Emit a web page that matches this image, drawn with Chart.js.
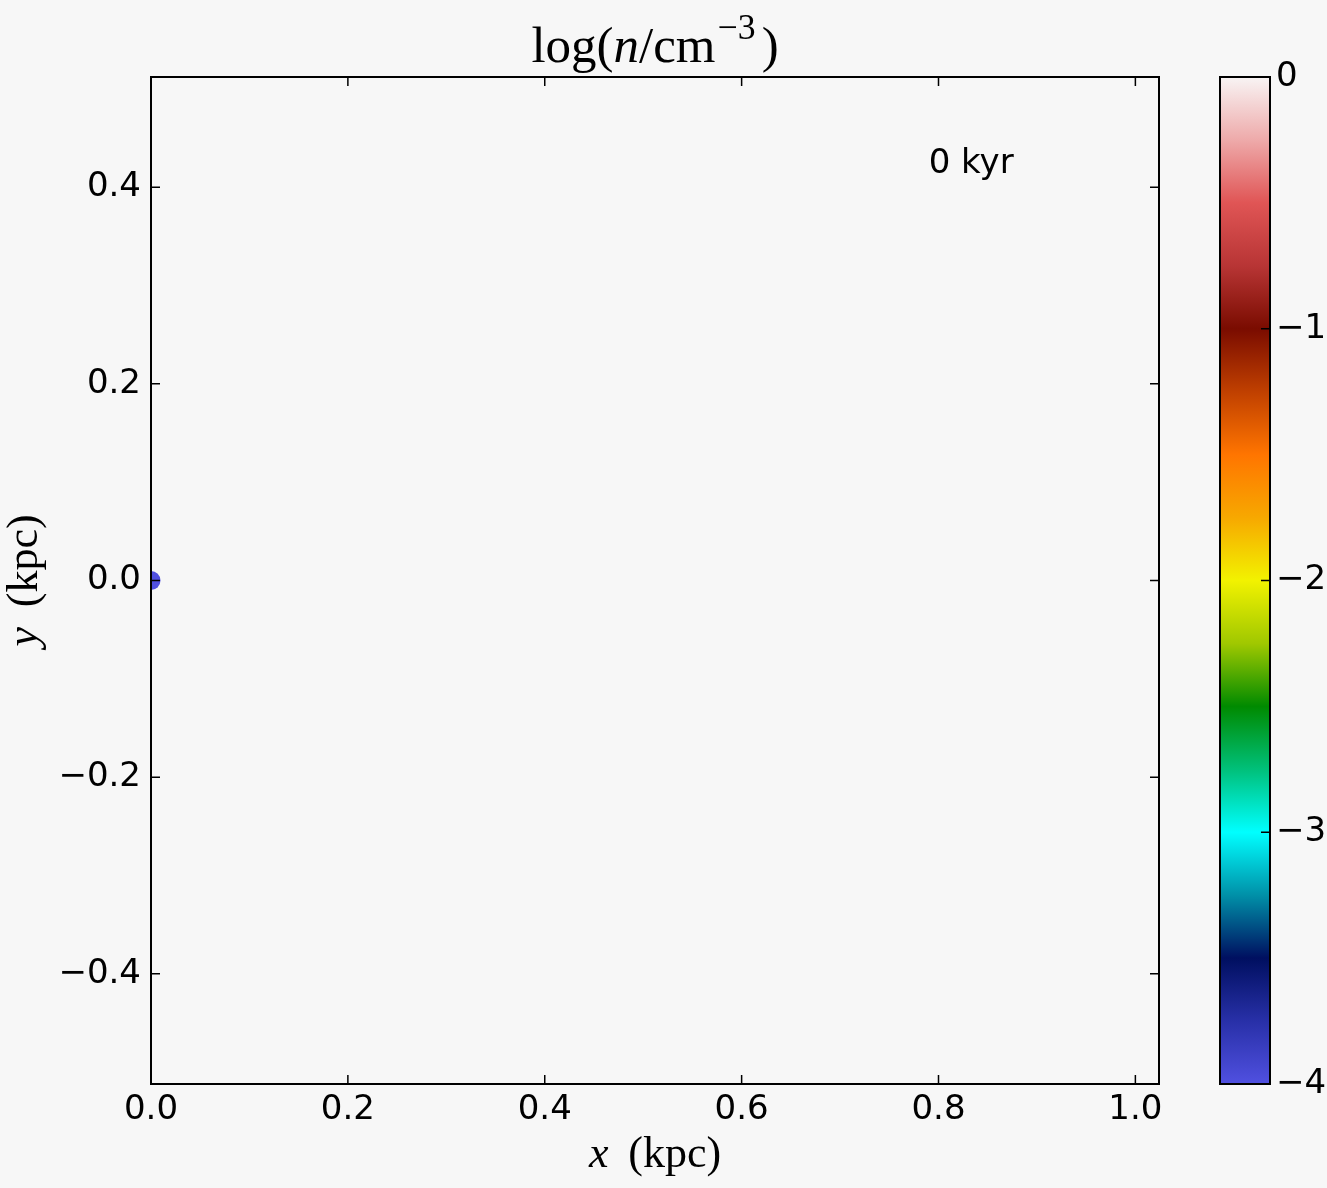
<!DOCTYPE html>
<html>
<head>
<meta charset="utf-8">
<script src="https://cdn.jsdelivr.net/npm/chart.js@4.4.1/dist/chart.umd.min.js"></script>
<style>
  html, body { margin: 0; padding: 0; background: #f7f7f7; }
  #wrap { position: relative; width: 1327px; height: 1188px; }
  #densityChart { position: absolute; left: 0; top: 0; }
  #colorbar { position: absolute; left: 1190px; top: 0; }
</style>
</head>
<body>
<div id="wrap">
  <canvas id="densityChart" width="1327" height="1188"></canvas>
  <canvas id="colorbar" width="137" height="1188"></canvas>
</div>
<script>
// --- data ---
const xRange = [0, 1.024];
const yRange = [-0.512, 0.512];
const xTicks = [0.0, 0.2, 0.4, 0.6, 0.8, 1.0];
const yTicks = [-0.4, -0.2, 0.0, 0.2, 0.4];

// dense cells (kpc) and their log density
const cellX    = [0.0];
const cellY    = [0.0];
const cellLogN = [-4];

const timeLabel    = '0 kyr';
const timeLabelPos = [0.79, 0.423];

// colour scale
const cbRange = [-4, 0];
const cbTicks = [-4, -3, -2, -1, 0];
const cmapValues = [-4, -3.75, -3.5, -3.25, -3, -2.75, -2.5, -2.25, -2, -1.75, -1.5, -1.25, -1, -0.75, -0.5, -0.25, 0];
const cmapColors = ['#5050e0', '#2830a8', '#000f60', '#0090a8', '#00ffff', '#00c07a', '#008a00', '#a0c800',
                    '#f2f200', '#f7a800', '#ff7500', '#c04000', '#7a0c00', '#b83535', '#e05555', '#eeaaaa', '#f8f4f4'];

const TICK_FONT = { family: 'DejaVu Sans', size: 34 };
const SERIF = '"Liberation Serif", serif';

const fmt1 = v => (v < -1e-9 ? '\u2212' : '') + Math.abs(v).toFixed(1);
const fmt0 = v => (v < 0 ? '\u2212' : '') + Math.abs(v).toFixed(0);

function hexRgb(h) {
  const n = parseInt(h.slice(1), 16);
  return [(n >> 16) & 255, (n >> 8) & 255, n & 255];
}
function colorFor(v) {
  if (v <= cmapValues[0]) return cmapColors[0];
  for (let i = 1; i < cmapValues.length; i++) {
    if (v <= cmapValues[i]) {
      const t = (v - cmapValues[i - 1]) / (cmapValues[i] - cmapValues[i - 1]);
      const a = hexRgb(cmapColors[i - 1]), b = hexRgb(cmapColors[i]);
      const c = a.map((x, k) => Math.round(x + (b[k] - x) * t));
      return `rgb(${c[0]},${c[1]},${c[2]})`;
    }
  }
  return cmapColors[cmapColors.length - 1];
}

// mathtext-ish label: parts of {t, it, sup, gap}
function drawMath(ctx, parts, x, y, size) {
  const items = parts.map(p => {
    const s = p.sup ? size * 0.7 : size;
    ctx.font = `${p.it ? 'italic ' : ''}${s}px ${SERIF}`;
    return { ...p, s, w: ctx.measureText(p.t).width };
  });
  const total = items.reduce((a, p) => a + p.w + (p.gap || 0) * size, 0);
  let cx = x - total / 2;
  ctx.fillStyle = '#000';
  ctx.textAlign = 'left';
  ctx.textBaseline = 'alphabetic';
  items.forEach(p => {
    cx += (p.gap || 0) * size;
    ctx.font = `${p.it ? 'italic ' : ''}${p.s}px ${SERIF}`;
    ctx.fillText(p.t, cx, p.sup ? y - size * 0.45 : y);
    cx += p.w;
  });
}

// frame, inward ticks and labels
const framePlugin = {
  id: 'frame',
  afterDraw(chart) {
    const { ctx, chartArea: a, scales: { x, y } } = chart;
    ctx.save();
    ctx.strokeStyle = '#000';
    ctx.lineWidth = 1.5;
    ctx.beginPath();
    xTicks.forEach(v => {
      const px = x.getPixelForValue(v);
      ctx.moveTo(px, a.bottom); ctx.lineTo(px, a.bottom - 9);
      ctx.moveTo(px, a.top);    ctx.lineTo(px, a.top + 9);
    });
    yTicks.forEach(v => {
      const py = y.getPixelForValue(v);
      ctx.moveTo(a.left, py);  ctx.lineTo(a.left + 9, py);
      ctx.moveTo(a.right, py); ctx.lineTo(a.right - 9, py);
    });
    ctx.stroke();
    ctx.lineWidth = 2;
    ctx.strokeRect(a.left, a.top, a.right - a.left, a.bottom - a.top);

    // time stamp
    ctx.fillStyle = '#000';
    ctx.font = `${TICK_FONT.size}px "${TICK_FONT.family}"`;
    ctx.textAlign = 'left';
    ctx.textBaseline = 'middle';
    ctx.fillText(timeLabel, x.getPixelForValue(timeLabelPos[0]), y.getPixelForValue(timeLabelPos[1]));

    const cxMid = (a.left + a.right) / 2;
    drawMath(ctx, [{ t: 'log(' }, { t: 'n', it: true }, { t: '/cm' }, { t: '\u22123', sup: true, gap: 0.04 }, { t: ')', gap: 0.12 }], cxMid, 62, 51);
    drawMath(ctx, [{ t: 'x', it: true }, { t: '(kpc)', gap: 0.45 }], cxMid, 1167, 44);

    ctx.translate(37, (a.top + a.bottom) / 2);
    ctx.rotate(-Math.PI / 2);
    drawMath(ctx, [{ t: 'y', it: true }, { t: '(kpc)', gap: 0.45 }], 0, 0, 44);
    ctx.restore();
  }
};

new Chart(document.getElementById('densityChart'), {
  type: 'scatter',
  data: {
    datasets: [{
      data: cellX.map((x, i) => ({ x, y: cellY[i], v: cellLogN[i] })),
      backgroundColor: c => colorFor(c.raw ? c.raw.v : cbRange[0]),
      borderWidth: 0,
      pointRadius: 9.5,
      pointHoverRadius: 9.5,
      clip: 0
    }]
  },
  options: {
    responsive: false,
    animation: false,
    events: [],
    layout: { padding: { top: 77, right: 168, left: 0, bottom: 0 } },
    plugins: { legend: { display: false }, tooltip: { enabled: false } },
    scales: {
      x: {
        type: 'linear', position: 'bottom', min: xRange[0], max: xRange[1],
        afterBuildTicks: s => { s.ticks = xTicks.map(v => ({ value: v })); },
        afterFit: s => { s.height = 104; },
        grid: { display: false, drawTicks: false }, border: { display: false },
        ticks: { font: TICK_FONT, color: '#000', padding: 6, maxRotation: 0, autoSkip: false, callback: fmt1 }
      },
      y: {
        type: 'linear', position: 'left', min: yRange[0], max: yRange[1],
        afterBuildTicks: s => { s.ticks = yTicks.map(v => ({ value: v })); },
        afterFit: s => { s.width = 151; },
        grid: { display: false, drawTicks: false }, border: { display: false },
        ticks: { font: TICK_FONT, color: '#000', padding: 10, autoSkip: false, callback: fmt1 }
      }
    }
  },
  plugins: [framePlugin]
});

// colour bar
const cbFrame = {
  id: 'cbFrame',
  afterDraw(chart) {
    const { ctx, chartArea: a, scales: { y } } = chart;
    ctx.save();
    ctx.strokeStyle = '#000';
    ctx.lineWidth = 1.5;
    ctx.beginPath();
    cbTicks.forEach(v => {
      const py = y.getPixelForValue(v);
      ctx.moveTo(a.right, py); ctx.lineTo(a.right - 9, py);
    });
    ctx.stroke();
    ctx.lineWidth = 2;
    ctx.strokeRect(a.left, a.top, a.right - a.left, a.bottom - a.top);
    ctx.restore();
  }
};

new Chart(document.getElementById('colorbar'), {
  type: 'bar',
  data: {
    labels: ['logn'],
    datasets: [{
      data: [cbRange],
      barPercentage: 1,
      categoryPercentage: 1,
      borderWidth: 0,
      backgroundColor: c => {
        const { chart } = c;
        if (!chart.chartArea) return cmapColors[0];
        const y = chart.scales.y;
        const y0 = y.getPixelForValue(cbRange[0]), y1 = y.getPixelForValue(cbRange[1]);
        const g = chart.ctx.createLinearGradient(0, y0, 0, y1);
        cmapValues.forEach((v, i) => g.addColorStop((v - cbRange[0]) / (cbRange[1] - cbRange[0]), cmapColors[i]));
        return g;
      }
    }]
  },
  options: {
    responsive: false,
    animation: false,
    events: [],
    layout: { padding: { left: 30, top: 77, bottom: 104, right: 0 } },
    plugins: { legend: { display: false }, tooltip: { enabled: false } },
    scales: {
      x: { display: false },
      y: {
        position: 'right', min: cbRange[0], max: cbRange[1],
        afterBuildTicks: s => { s.ticks = cbTicks.map(v => ({ value: v })); },
        afterFit: s => { s.width = 57; },
        grid: { display: false, drawTicks: false }, border: { display: false },
        ticks: { font: TICK_FONT, color: '#000', padding: 6, callback: fmt0 }
      }
    }
  },
  plugins: [cbFrame]
});
</script>
</body>
</html>
